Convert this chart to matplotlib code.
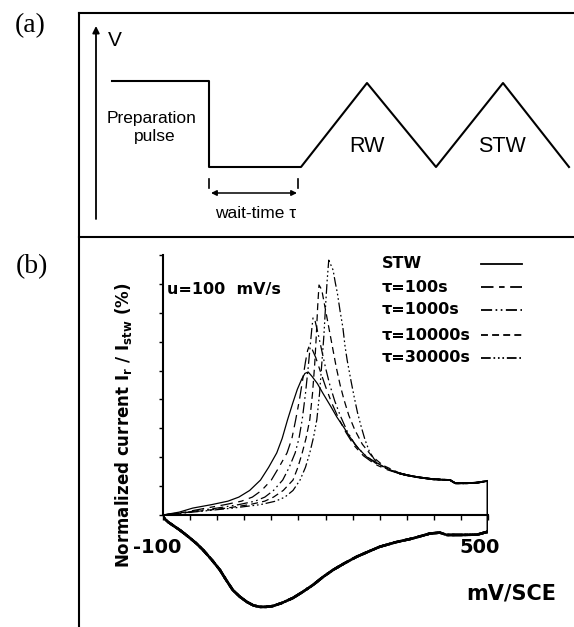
import numpy as np
import matplotlib
matplotlib.use('Agg')
import matplotlib.pyplot as plt

plt.rcParams['lines.scale_dashes'] = False

# ---- panel (a): schematic potential program (figure pixel coords) ----
pulse_t = [112, 209, 209, 301, 367, 436, 503, 569]
pulse_v = [81, 81, 167, 167, 83, 167, 83, 167]

# ---- panel (b): forward scans (mV/SCE, normalized current %) ----
pot_stw = [-100, -70, -45, -10, 20, 40, 60, 80, 95, 110, 120, 130, 140, 148, 156, 162, 168,
           175, 185, 195, 210, 221, 235, 245, 260, 276, 300, 319, 337]
cur_stw = [0, 1.0, 2.4, 3.6, 4.8, 6.2, 8.5, 12.1, 16.5, 21.5, 26.5, 33, 39, 43.5, 47, 49, 49.5,
           48, 45.5, 42.2, 37.5, 33.9, 30, 27, 23.2, 20.1, 17.5, 15.6, 14.3]

pot_100 = [-100, -60, -20, 15, 45, 65, 82, 100, 114, 129, 138, 145, 152, 158, 163, 167, 170,
           175, 182, 190, 200, 211, 224, 238, 253, 270, 292, 315, 337]
cur_100 = [0, 1.0, 2.4, 3.6, 4.8, 6.2, 8.5, 12.1, 16.5, 21.5, 26.5, 33, 40, 47, 53, 57, 58.5,
           57.5, 54.5, 50, 44.5, 39, 33.5, 28.5, 24, 20.5, 17.5, 15.6, 14.3]

pot_1000 = [-100, -55, 0, 40, 70, 88, 104, 121, 133, 144, 151, 157, 163, 168, 172, 175, 177,
            181, 186, 193, 200, 208, 217, 227, 240, 254, 271, 292, 315, 337]
cur_1000 = [0, 1.0, 2.4, 3.6, 4.8, 6.2, 8.5, 12.1, 16.5, 21.5, 26.5, 33, 42, 51, 59, 65, 68.2,
            67, 63, 57, 51, 45, 39.5, 34.5, 29, 24.5, 21, 18, 15.8, 14.4]

pot_10000 = [-100, -50, 18, 60, 88, 104, 122, 140, 149, 157, 164, 171, 176, 180, 183, 185.5, 188,
             193, 199, 206, 213, 220, 227, 234, 243, 254, 268, 285, 306, 337]
cur_10000 = [0, 1.0, 2.4, 3.6, 4.8, 6.2, 8.5, 12.1, 16.5, 21.5, 26.5, 33, 42, 52, 62, 72, 79.6,
             78, 72, 65, 58, 51, 45, 40, 34.5, 29.5, 24.5, 20.5, 17.2, 14.5]

pot_30000 = [-100, -45, 29, 80, 108, 125, 140, 153, 163, 171, 178, 184, 189, 193, 197, 200, 203, 206,
             210, 214, 218, 222, 227, 232, 236, 240, 247, 253, 259, 266, 273, 281, 291, 303, 320, 337]
cur_30000 = [0, 1.0, 2.4, 3.6, 4.8, 6.2, 8.5, 12.1, 16.5, 21.5, 27, 33, 42, 52, 62, 72, 81, 88.2,
             86.5, 84.8, 80.5, 76.7, 70.5, 65, 58.5, 53.6, 46.5, 40.8, 35.5, 30.5, 26, 22, 19, 17, 15.5, 14.5]

# common plateau up to the switching potential, then the reverse (cathodic) scan
pot_plateau = [337, 350, 370, 398, 430, 436, 440, 460, 480, 493, 499]
cur_plateau = [14.4, 13.8, 13.1, 12.4, 12.1, 11.4, 11.0, 11.0, 11.2, 11.6, 11.8]

pot_return = [499, 499, 480, 450, 424, 411, 393, 361, 330, 300, 280, 258, 236, 214, 195, 177, 158, 140,
              120, 103, 90, 79, 67, 55, 42, 29, 17, 5, -10, -26, -38, -50, -60, -69, -80, -90, -96, -100]
cur_return = [11.8, -5.8, -6.8, -6.9, -6.9, -6.1, -6.4, -8.1, -9.4, -11.0, -12.6, -14.4, -16.6, -19.0,
              -21.5, -24.2, -26.6, -28.7, -30.4, -31.5, -31.8, -31.8, -31.3, -30.1, -28.3, -26.0, -22.6,
              -19.0, -15.5, -12.1, -9.9, -8.0, -6.5, -5.2, -3.8, -2.5, -1.5, -0.5]

labels = ['STW', '\u03c4=100s', '\u03c4=1000s', '\u03c4=10000s', '\u03c4=30000s']
styles = ['-', (0, (9, 4, 4, 4)), (0, (8, 2.5, 1.2, 2.5, 1.2, 2.5)), (0, (5, 3)),
          (0, (7, 2, 1.2, 2, 1.2, 2, 1.2, 2))]
forward = [(pot_stw, cur_stw), (pot_100, cur_100), (pot_1000, cur_1000),
           (pot_10000, cur_10000), (pot_30000, cur_30000)]

W, H = 574, 627
fig = plt.figure(figsize=(5.74, 6.27), dpi=100)

fr = fig.add_axes([0, 0, 1, 1])
fr.set_xlim(0, W)
fr.set_ylim(H, 0)
fr.axis('off')

# frames
fr.plot([79, 79], [13, H], color='k', lw=1.5)
fr.plot([79, W], [13, 13], color='k', lw=1.5)
fr.plot([79, W], [237, 237], color='k', lw=1.5)

sans = 'Liberation Sans'
fr.text(30, 26, '(a)', fontsize=20, family='Liberation Serif', ha='center', va='center')
fr.text(32, 267, '(b)', fontsize=20, family='Liberation Serif', ha='center', va='center')

# panel (a)
fr.annotate('', xy=(96, 26), xytext=(96, 219),
            arrowprops=dict(arrowstyle='-|>', lw=1.3, color='k', mutation_scale=10, shrinkA=0, shrinkB=0))
fr.text(108, 41, 'V', fontsize=15, family=sans, ha='left', va='center')
fr.plot(pulse_t, pulse_v, color='k', lw=1.5)
fr.text(152, 118, 'Preparation', fontsize=12.5, family=sans, ha='center', va='center')
fr.text(155, 137, 'pulse', fontsize=12.5, family=sans, ha='center', va='center')
fr.text(367, 147, 'RW', fontsize=15.5, family=sans, ha='center', va='center')
fr.text(502, 147, 'STW', fontsize=15.5, family=sans, ha='center', va='center')
fr.plot([209, 209], [179, 188], color='k', lw=1.2)
fr.plot([298, 298], [179, 188], color='k', lw=1.2)
fr.annotate('', xy=(211, 193), xytext=(297, 193),
            arrowprops=dict(arrowstyle='<|-|>', lw=1.1, color='k', mutation_scale=8, shrinkA=0, shrinkB=0))
fr.text(256, 213, 'wait-time \u03c4', fontsize=12.5, family=sans, ha='center', va='center')

# panel (b)
bold = dict(family='DejaVu Sans', fontweight='bold')
ax = fig.add_axes([163 / W, (H - 624.8) / H, 325 / W, (624.8 - 249.2) / H])
ax.patch.set_alpha(0)
ax.set_xlim(-100, 500)
ax.set_ylim(-38, 92)
for sp in ['top', 'right']:
    ax.spines[sp].set_visible(False)
ax.spines['left'].set_bounds(0, 90)
ax.spines['bottom'].set_position(('data', 0))
ax.spines['bottom'].set_bounds(-100, 500)
ax.spines['left'].set_linewidth(1.5)
ax.spines['bottom'].set_linewidth(1.5)
ax.set_xticks(np.arange(-100, 501, 50))
ax.set_yticks(np.arange(0, 91, 10))
ax.set_xticklabels([])
ax.set_yticklabels([])
ax.tick_params(axis='x', direction='out', length=3.5, width=1)
ax.tick_params(axis='y', direction='out', length=3, width=1)

for (p, c), ls in zip(forward, styles):
    ax.plot(list(p) + pot_plateau[1:], list(c) + cur_plateau[1:], color='k', lw=0.9, linestyle=ls)
    ax.plot(pot_plateau, cur_plateau, color='k', lw=1.3, linestyle=ls)
    ax.plot(pot_return[:2], cur_return[:2], color='k', lw=0.9, linestyle='-')
    ax.plot(pot_return[1:], cur_return[1:], color='k', lw=1.8, linestyle=ls)

ax.text(-111, -11.4, '-100', fontsize=14, ha='center', va='center', **bold)
ax.text(485, -11.4, '500', fontsize=14, ha='center', va='center', **bold)
ax.text(542, -27, 'mV/SCE', fontsize=15, ha='center', va='center', **bold)
ax.text(-93, 78.2, 'u=100  mV/s', fontsize=11.5, ha='left', va='center', **bold)

fr.text(123, 425, 'Normalized current I$_\\mathregular{r}$ / I$_\\mathregular{stw}$ (%)',
        fontsize=12, rotation=90, ha='center', va='center', **bold)

# legend
leg_y = [264, 287, 310, 335, 358]
for lab, ls, yy in zip(labels, styles, leg_y):
    fr.text(382, yy, lab, fontsize=11.5, ha='left', va='center', **bold)
    fr.plot([481, 522], [yy, yy], color='k', lw=1.3, linestyle=ls)

fig.savefig('out.png', dpi=100)
